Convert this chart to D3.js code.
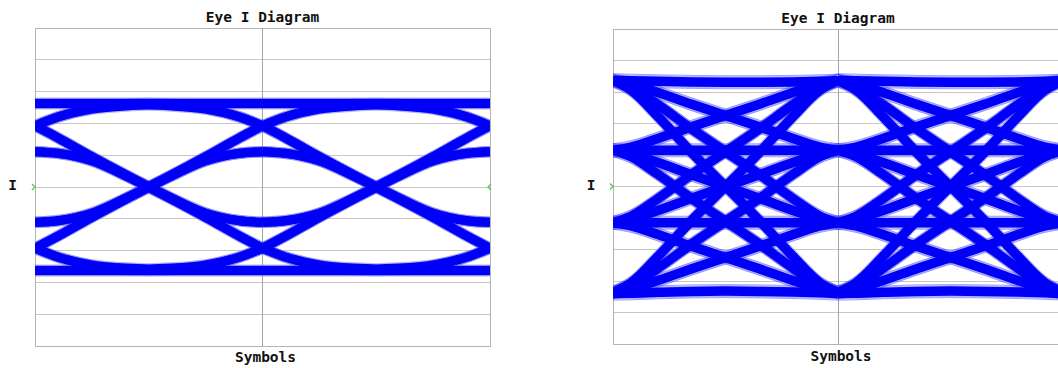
<!DOCTYPE html>
<html>
<head>
<meta charset="utf-8">
<script src="https://cdn.jsdelivr.net/npm/d3@7/dist/d3.min.js"></script>
<style>
  html, body { margin: 0; padding: 0; background: #ffffff; }
  svg { display: block; }
  .title, .axis-label { font-family: "DejaVu Sans Mono", monospace; font-weight: bold; font-size: 14.5px; fill: #111; }
</style>
</head>
<body>
<svg id="chart" width="1058" height="368"></svg>
<script>
// ---- Data -------------------------------------------------------------
const chartTitle = "Eye I Diagram";
const xAxisLabel = "Symbols";
const yAxisLabel = "I";

// The window spans two symbol periods; every interval shows the same set of traces.
const symbolIntervals = [0, 1];
const amplitudeDomain = [-1, 1];

// Two-level eye: knot times inside one symbol period, and the trace
// amplitudes at those knots (one row per trace family).
const nrzKnots = [0, 0.1, 0.25, 0.4, 0.5, 0.6, 0.75, 0.9, 1];
const nrzTraces = [
  [ 0.525,  0.525,  0.525,  0.525,  0.525,  0.525,  0.525,  0.525,  0.525],
  [ 0.385,  0.44,   0.495,  0.52,   0.525,  0.525,  0.525,  0.525,  0.525],
  [ 0.525,  0.525,  0.525,  0.525,  0.525,  0.52,   0.495,  0.44,   0.385],
  [ 0.385,  0.44,   0.49,   0.51,   0.515,  0.51,   0.49,   0.44,   0.385],
  [ 0.385,  0.31,   0.19,   0.075,  0,     -0.075, -0.19,  -0.31,  -0.385],
  [ 0.385,  0.31,   0.19,   0.075,  0,     -0.07,  -0.165, -0.212, -0.222],
  [ 0.222,  0.212,  0.165,  0.07,   0,     -0.075, -0.19,  -0.31,  -0.385],
  [ 0.222,  0.212,  0.165,  0.07,   0,     -0.07,  -0.165, -0.212, -0.222],
  [-0.525, -0.525, -0.525, -0.525, -0.525, -0.525, -0.525, -0.525, -0.525],
  [-0.385, -0.44,  -0.495, -0.52,  -0.525, -0.525, -0.525, -0.525, -0.525],
  [-0.525, -0.525, -0.525, -0.525, -0.525, -0.52,  -0.495, -0.44,  -0.385],
  [-0.385, -0.44,  -0.49,  -0.51,  -0.515, -0.51,  -0.49,  -0.44,  -0.385],
  [-0.385, -0.31,  -0.19,  -0.075,  0,      0.075,  0.19,   0.31,   0.385],
  [-0.385, -0.31,  -0.19,  -0.075,  0,      0.07,   0.165,  0.212,  0.222],
  [-0.222, -0.212, -0.165, -0.07,   0,      0.075,  0.19,   0.31,   0.385],
  [-0.222, -0.212, -0.165, -0.07,   0,      0.07,   0.165,  0.212,  0.222]
];

// Four-level eye: one row per level-to-level transition.
const pam4Knots = [0, 0.08, 0.2, 0.35, 0.5, 0.65, 0.8, 0.92, 1];
const pam4Traces = [
  [ 0.675,  0.672,  0.668,  0.664,  0.662,  0.662,  0.664,  0.668,  0.672],
  [ 0.672,  0.652,  0.597,  0.522,  0.451,  0.380,  0.305,  0.250,  0.230],
  [ 0.672,  0.631,  0.519,  0.365,  0.221,  0.077, -0.077, -0.189, -0.230],
  [ 0.672,  0.612,  0.444,  0.215,  0,     -0.215, -0.444, -0.612, -0.672],
  [ 0.230,  0.250,  0.305,  0.380,  0.451,  0.522,  0.597,  0.652,  0.672],
  [ 0.230,  0.230,  0.230,  0.230,  0.230,  0.230,  0.230,  0.230,  0.230],
  [ 0.230,  0.209,  0.152,  0.074,  0,     -0.074, -0.152, -0.209, -0.230],
  [ 0.230,  0.189,  0.077, -0.077, -0.221, -0.365, -0.519, -0.631, -0.672],
  [-0.230, -0.189, -0.077,  0.077,  0.221,  0.365,  0.519,  0.631,  0.672],
  [-0.230, -0.209, -0.152, -0.074,  0,      0.074,  0.152,  0.209,  0.230],
  [-0.230, -0.230, -0.230, -0.230, -0.230, -0.230, -0.230, -0.230, -0.230],
  [-0.230, -0.250, -0.305, -0.380, -0.451, -0.522, -0.597, -0.652, -0.672],
  [-0.672, -0.612, -0.444, -0.215,  0,      0.215,  0.444,  0.612,  0.672],
  [-0.672, -0.631, -0.519, -0.365, -0.221, -0.077,  0.077,  0.189,  0.230],
  [-0.672, -0.652, -0.597, -0.522, -0.451, -0.380, -0.305, -0.250, -0.230],
  [-0.680, -0.678, -0.672, -0.666, -0.664, -0.666, -0.670, -0.675, -0.680]
];

// ---- Layout -----------------------------------------------------------
const panels = [
  { id: "nrz",  left: 35,  right: 490,  top: 28, bottom: 346, knots: nrzKnots,  traces: nrzTraces,
    titleY: 22, labelY: 362, labelDx: 3, yLabelX: 12.5, rightMarker: true,
    coreWidth: 9, haloWidth: 11.5, fringe: [] },
  { id: "pam4", left: 613, right: 1063, top: 29, bottom: 344, knots: pam4Knots, traces: pam4Traces,
    titleY: 23, labelY: 361, labelDx: 3, yLabelX: 591, rightMarker: false,
    coreWidth: 9.5, haloWidth: 12, fringe: [-6.5, 6.5] }
];

const svg = d3.select("#chart");
const traceColor = "#0000f8";

panels.forEach(p => {
  const x = d3.scaleLinear().domain([0, 2]).range([p.left, p.right]);
  const y = d3.scaleLinear().domain(amplitudeDomain).range([p.bottom, p.top]);
  const g = svg.append("g").attr("class", "panel-" + p.id);

  g.append("clipPath").attr("id", "clip-" + p.id)
    .append("rect")
    .attr("x", p.left).attr("y", p.top)
    .attr("width", p.right - p.left).attr("height", p.bottom - p.top);

  // Horizontal grid
  g.append("g").selectAll("line")
    .data(y.ticks(10))
    .join("line")
    .attr("x1", p.left).attr("x2", p.right)
    .attr("y1", d => y(d)).attr("y2", d => y(d))
    .attr("stroke", "#c6c6c6").attr("stroke-width", 1)
    .attr("shape-rendering", "crispEdges");

  // Frame and centre divider
  g.append("rect")
    .attr("x", p.left).attr("y", p.top)
    .attr("width", p.right - p.left).attr("height", p.bottom - p.top)
    .attr("fill", "none").attr("stroke", "#b4b4b4").attr("stroke-width", 1)
    .attr("shape-rendering", "crispEdges");
  g.append("line")
    .attr("x1", x(1)).attr("x2", x(1))
    .attr("y1", p.top).attr("y2", p.bottom)
    .attr("stroke", "#a4a4a4").attr("stroke-width", 1)
    .attr("shape-rendering", "crispEdges");

  // Eye traces
  const line = d3.line()
    .x(d => x(d[0]))
    .y(d => y(d[1]))
    .curve(d3.curveMonotoneX);

  const paths = [];
  symbolIntervals.forEach(k => {
    p.traces.forEach(tr => {
      paths.push(p.knots.map((t, i) => [k + t, tr[i]]));
    });
  });

  const traces = g.append("g").attr("clip-path", "url(#clip-" + p.id + ")");

  // faint outer strands around each band
  p.fringe.forEach(dy => {
    traces.append("g")
      .attr("transform", `translate(0,${dy})`)
      .selectAll("path")
      .data(paths)
      .join("path")
      .attr("d", line)
      .attr("fill", "none")
      .attr("stroke", "#3c3cff")
      .attr("stroke-opacity", 0.55)
      .attr("stroke-width", 0.9);
  });

  traces.selectAll("path.halo")
    .data(paths)
    .join("path")
    .attr("class", "halo")
    .attr("d", line)
    .attr("fill", "none")
    .attr("stroke", "#5a5aff")
    .attr("stroke-opacity", 0.45)
    .attr("stroke-width", p.haloWidth);
  traces.selectAll("path.core")
    .data(paths)
    .join("path")
    .attr("class", "core")
    .attr("d", line)
    .attr("fill", "none")
    .attr("stroke", traceColor)
    .attr("stroke-width", p.coreWidth);

  // Zero-level markers
  const y0 = y(0);
  g.append("path")
    .attr("d", `M${p.left - 3},${y0 - 3}L${p.left},${y0}L${p.left - 3},${y0 + 3}`)
    .attr("fill", "none").attr("stroke", "#55c055").attr("stroke-width", 1.2);
  if (p.rightMarker) {
    g.append("path")
      .attr("d", `M${p.right + 1},${y0 - 3}L${p.right - 2},${y0}L${p.right + 1},${y0 + 3}`)
      .attr("fill", "none").attr("stroke", "#55c055").attr("stroke-width", 1.2);
  }

  // Text
  const cx = (p.left + p.right) / 2;
  g.append("text").attr("class", "title")
    .attr("x", cx).attr("y", p.titleY)
    .attr("text-anchor", "middle").text(chartTitle);
  g.append("text").attr("class", "axis-label")
    .attr("x", cx + p.labelDx).attr("y", p.labelY)
    .attr("text-anchor", "middle").text(xAxisLabel);
  g.append("text").attr("class", "axis-label")
    .attr("x", p.yLabelX).attr("y", 190)
    .attr("text-anchor", "middle").text(yAxisLabel);
});
</script>
</body>
</html>
